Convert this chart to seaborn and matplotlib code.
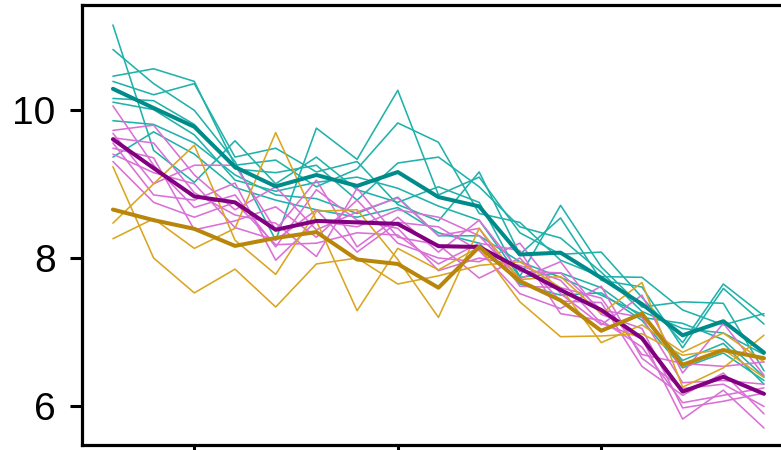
import numpy as np
import pandas as pd
import seaborn as sns
import matplotlib
matplotlib.use("Agg")
import matplotlib.pyplot as plt
from matplotlib.ticker import MultipleLocator

# Years on the x axis
years = list(range(1998, 2015))

# Group "teal": individual series
teal_1 = [11.14, 9.45, 9.02, 9.58, 9.00, 9.36, 8.92, 8.75, 8.96, 8.75, 7.75, 8.71, 7.88, 7.34, 7.41, 7.39, 6.48]
teal_2 = [10.81, 10.35, 9.99, 9.30, 8.24, 9.75, 9.33, 10.26, 8.85, 9.09, 8.34, 8.05, 8.08, 7.47, 6.86, 7.65, 7.22]
teal_3 = [10.45, 10.55, 10.38, 9.25, 9.32, 8.96, 9.20, 9.82, 9.56, 8.60, 8.48, 7.97, 7.75, 7.74, 7.30, 7.10, 7.25]
teal_4 = [10.38, 10.20, 10.35, 9.36, 9.48, 9.16, 9.30, 8.72, 8.50, 9.16, 8.05, 8.54, 7.70, 7.61, 6.79, 7.59, 7.11]
teal_5 = [10.15, 10.12, 9.80, 9.20, 9.15, 9.25, 8.78, 9.28, 9.36, 8.96, 8.42, 8.27, 7.81, 7.28, 7.05, 6.99, 6.70]
teal_6 = [10.10, 10.00, 9.66, 9.05, 8.90, 9.02, 9.09, 8.94, 8.70, 8.51, 7.74, 7.80, 7.60, 7.20, 7.12, 6.90, 6.40]
teal_7 = [9.85, 9.80, 9.55, 9.12, 8.85, 8.80, 8.60, 8.82, 8.30, 8.30, 7.95, 7.74, 7.50, 7.24, 6.62, 6.85, 6.30]
teal_8 = [9.36, 9.70, 9.40, 8.95, 8.78, 8.65, 8.55, 8.68, 8.34, 8.20, 7.65, 7.50, 7.53, 7.16, 6.52, 6.72, 6.35]

# Group "orchid": individual series
orchid_1 = [10.05, 9.25, 8.68, 8.85, 8.15, 8.92, 8.51, 8.40, 7.83, 8.00, 7.90, 7.70, 7.12, 6.92, 5.83, 6.22, 5.71]
orchid_2 = [9.72, 9.79, 9.12, 8.65, 8.96, 8.38, 8.62, 8.81, 8.30, 8.40, 7.62, 7.60, 7.46, 6.70, 6.58, 6.54, 6.60]
orchid_3 = [9.68, 9.00, 9.25, 9.25, 8.38, 9.05, 8.15, 8.55, 8.08, 8.51, 7.82, 7.80, 7.30, 7.20, 6.32, 6.35, 6.30]
orchid_4 = [9.62, 9.55, 8.88, 8.58, 8.47, 8.02, 8.94, 8.28, 8.18, 7.73, 8.00, 7.42, 7.40, 6.54, 6.15, 6.45, 5.90]
orchid_5 = [9.55, 8.85, 8.78, 9.01, 7.97, 8.50, 8.42, 8.65, 8.55, 8.30, 7.72, 7.95, 7.24, 7.05, 5.98, 6.07, 6.18]
orchid_6 = [9.48, 9.35, 8.38, 8.50, 8.69, 8.28, 8.78, 8.20, 8.00, 7.95, 8.20, 7.52, 7.10, 7.50, 6.45, 7.12, 6.42]
orchid_7 = [9.40, 9.15, 9.00, 8.41, 8.24, 8.65, 8.08, 8.48, 8.42, 8.10, 7.52, 7.32, 7.62, 6.65, 6.24, 6.30, 6.00]
orchid_8 = [9.30, 8.75, 8.55, 8.75, 8.18, 8.20, 8.34, 8.31, 7.92, 8.20, 8.10, 7.25, 7.16, 6.80, 6.05, 6.15, 6.25]

# Group "gold": individual series
gold_1 = [9.23, 8.00, 7.53, 7.85, 7.34, 7.92, 8.00, 7.65, 7.76, 7.90, 7.95, 7.60, 6.86, 7.10, 6.73, 6.99, 6.60]
gold_2 = [8.47, 9.00, 9.52, 8.24, 7.78, 8.63, 8.65, 7.98, 7.20, 8.40, 7.71, 7.75, 7.25, 7.67, 6.26, 6.52, 6.96]
gold_3 = [8.26, 8.53, 8.13, 8.40, 9.69, 8.50, 7.29, 8.13, 7.84, 8.15, 7.41, 6.94, 6.95, 6.98, 6.69, 6.77, 6.39]

groups = {
    "teal": [teal_1, teal_2, teal_3, teal_4, teal_5, teal_6, teal_7, teal_8],
    "orchid": [orchid_1, orchid_2, orchid_3, orchid_4, orchid_5, orchid_6, orchid_7, orchid_8],
    "gold": [gold_1, gold_2, gold_3],
}

rows = []
for g, series in groups.items():
    for i, vals in enumerate(series):
        for yr, v in zip(years, vals):
            rows.append({"year": yr, "value": v, "group": g, "unit": f"{g}{i}"})
df = pd.DataFrame(rows)

thin_colors = {"teal": "#20B2AA", "orchid": "#DA70D6", "gold": "#DAA520"}
thick_colors = {"teal": "#008B8B", "orchid": "#800080", "gold": "#B8860B"}
order = ["teal", "orchid", "gold"]

sns.set_theme(style="ticks")
plt.rcParams["font.family"] = ["Liberation Sans", "DejaVu Sans"]

fig = plt.figure(figsize=(7.81, 4.50), dpi=100)
ax = fig.add_axes([0.105, 0.011, 0.917, 0.978])

# thin lines: one per series
sns.lineplot(data=df, x="year", y="value", hue="group", units="unit",
             estimator=None, palette=thin_colors, hue_order=order,
             linewidth=1.15, legend=False, ax=ax)
# thick lines: group means
sns.lineplot(data=df, x="year", y="value", hue="group",
             estimator="mean", errorbar=None, palette=thick_colors,
             hue_order=order, linewidth=2.9, legend=False, ax=ax)

ax.set_xlim(years[0] - 0.76, years[-1] + 0.84)
ax.set_ylim(5.48, 11.41)
ax.xaxis.set_major_locator(MultipleLocator(5))
ax.set_yticks([6, 8, 10])
ax.set_xlabel("")
ax.set_ylabel("")
ax.tick_params(axis="both", length=9, width=2.2, color="black", labelcolor="black")
ax.tick_params(axis="y", labelsize=28, pad=10)
ax.tick_params(axis="x", labelbottom=False)
for side in ["left", "top", "bottom", "right"]:
    ax.spines[side].set_linewidth(2.3)
    ax.spines[side].set_color("black")
    ax.spines[side].set_visible(True)

fig.savefig("out.png", dpi=100)
